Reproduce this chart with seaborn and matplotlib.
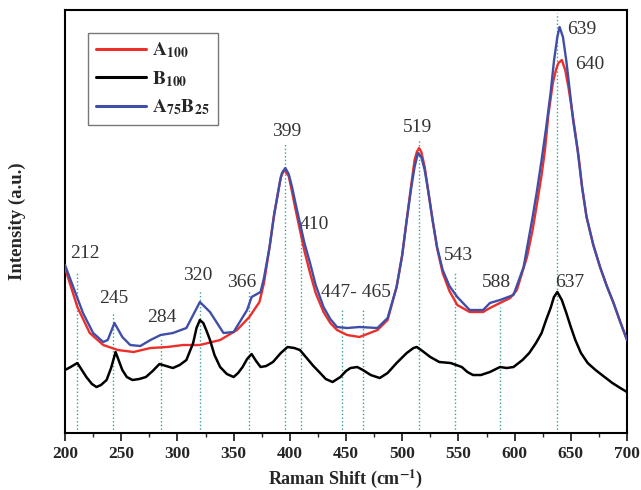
import numpy as np
import pandas as pd
import matplotlib
matplotlib.use('Agg')
import matplotlib.pyplot as plt
import seaborn as sns

sns.set_theme(style='ticks')
plt.rcParams['font.family'] = ['Liberation Serif', 'DejaVu Serif']
plt.rcParams['mathtext.fontset'] = 'stix'

# ---- data (intensity in arbitrary units) ----
a100_x = [200, 211, 222, 234, 247, 261, 276, 291, 305, 320, 338, 353, 364, 373,
          377, 382, 386, 392, 395, 399, 402, 405, 409, 413, 418, 423, 430, 436,
          442, 451, 462, 478, 487, 495, 500, 504, 508, 511, 513, 515, 517, 520,
          523, 527, 531, 536, 542, 549, 560, 572, 578, 596, 602, 611, 616, 620,
          624, 627, 630, 634, 637, 639, 642, 645, 648, 651, 654, 657, 660, 664,
          670, 676, 682, 688, 694, 700]
a100_y = [165, 126, 100, 88, 83, 81, 85, 86, 88, 88, 93, 103, 116, 131,
          150, 186, 218, 256, 263, 257, 241, 224, 203, 182, 160, 140, 121, 110,
          103, 98, 96, 103, 113, 146, 178, 213, 248, 273, 281, 285, 281, 266,
          243, 213, 185, 160, 142, 128, 121, 121, 125, 135, 143, 176, 203, 230,
          258, 283, 318, 350, 364, 370, 373, 363, 345, 323, 300, 276, 246, 216,
          188, 166, 147, 130, 111, 93]

b100_x = [200, 205, 211, 215, 219, 224, 228, 232, 237, 241, 245, 248, 251, 255,
          260, 266, 272, 278, 284, 290, 296, 302, 308, 314, 317, 320, 323, 326,
          329, 333, 338, 344, 350, 354, 358, 362, 366, 370, 374, 379, 385, 392,
          398, 404, 409, 415, 421, 427, 432, 438, 445, 450, 454, 460, 465, 472,
          480, 487, 495, 504, 510, 513, 518, 525, 533, 543, 548, 553, 558, 563,
          570, 578, 587, 593, 599, 607, 613, 619, 624, 628, 632, 635, 638, 642,
          646, 650, 654, 659, 665, 672, 680, 687, 694, 700]
b100_y = [63, 66, 70, 63, 56, 49, 46, 48, 53, 65, 81, 72, 63, 56,
          53, 54, 56, 62, 69, 67, 65, 68, 73, 90, 105, 113, 110, 102,
          93, 78, 66, 59, 56, 60, 66, 74, 79, 72, 66, 67, 71, 80,
          86, 85, 83, 75, 67, 60, 54, 51, 56, 62, 65, 66, 63, 58,
          55, 60, 70, 80, 85, 86, 82, 76, 71, 70, 68, 66, 61, 58,
          58, 61, 66, 65, 66, 73, 80, 90, 100, 113, 125, 136, 141, 133,
          120, 106, 93, 80, 70, 63, 56, 50, 45, 41]

a75b25_x = [200, 216, 225, 234, 238, 244, 251, 258, 267, 276, 285, 296, 308, 314,
            320, 329, 341, 350, 362, 366, 374, 377, 382, 386, 391, 393, 396, 399,
            402, 405, 409, 413, 418, 423, 430, 436, 442, 451, 462, 478, 487, 495,
            500, 504, 508, 511, 514, 517, 520, 523, 527, 531, 536, 542, 549, 560,
            572, 578, 587, 599, 608, 616, 620, 624, 628, 632, 635, 638, 640, 643,
            646, 649, 652, 656, 660, 664, 670, 676, 682, 688, 694, 700]
a75b25_y = [168, 120, 100, 91, 93, 110, 96, 88, 87, 93, 98, 100, 105, 118,
            131, 121, 100, 101, 123, 136, 141, 155, 186, 218, 250, 260, 265, 259,
            246, 230, 210, 190, 170, 148, 126, 114, 106, 105, 106, 105, 115, 146,
            178, 213, 245, 266, 280, 276, 263, 243, 213, 186, 163, 147, 136, 123,
            123, 130, 133, 138, 166, 216, 243, 273, 305, 340, 372, 396, 406, 396,
            372, 343, 313, 283, 246, 216, 188, 166, 147, 130, 111, 93]

# assigned band positions (dotted guides) and their labels
band_x = [211, 243, 285, 320, 364, 396, 410, 446, 465, 515, 547, 587, 638]
band_top = [161, 120, 95, 143, 143, 290, 213, 125, 123, 293, 160, 126, 420]
label_text = ['212', '245', '284', '320', '366', '399', '410', '447- 465',
              '519', '543', '588', '637', '639', '640']
label_x = [218, 243, 286, 318, 357, 397, 422, 459, 514, 550, 584, 649, 660, 667]
label_y = [180, 135, 116, 158, 151, 302, 209, 141, 306, 178, 151, 151, 403, 368]

RED = '#ec2f2b'
BLUE = '#3f4fa8'
GUIDE = '#3aa39a'

fig = plt.figure(figsize=(6.41, 4.90), dpi=100)
ax = fig.add_axes([0.1014, 0.1163, 0.8768, 0.8633])

ax.vlines(band_x, 0, band_top, colors=GUIDE, linestyles=':', linewidth=1.0, zorder=1)

sns.lineplot(x=a100_x, y=a100_y, ax=ax, color=RED, linewidth=1.7,
             label=r'$\mathbf{A}_{\mathbf{100}}$', zorder=3)
sns.lineplot(x=b100_x, y=b100_y, ax=ax, color='black', linewidth=1.8,
             label=r'$\mathbf{B}_{\mathbf{100}}$', zorder=3)
sns.lineplot(x=a75b25_x, y=a75b25_y, ax=ax, color=BLUE, linewidth=1.7,
             label=r'$\mathbf{A}_{\mathbf{75}}\mathbf{B}_{\mathbf{25}}$', zorder=4)

for t, x, y in zip(label_text, label_x, label_y):
    ax.text(x, y, t, ha='center', va='center', fontsize=14, color='#333333')

ax.set_xlim(200, 700)
ax.set_ylim(0, 423)
ax.set_xticks(range(200, 701, 50))
ax.set_xticks(range(225, 700, 50), minor=True)
ax.set_yticks([])
ax.tick_params(axis='x', which='major', length=6, width=1.3, labelsize=12.5, pad=3)
ax.tick_params(axis='x', which='minor', length=3, width=1.0)
for lab in ax.get_xticklabels():
    lab.set_fontweight('bold')
for s in ax.spines.values():
    s.set_linewidth(1.5)
    s.set_color('black')

ax.set_xlabel(r'Raman Shift (cm$^{\mathbf{-1}}$)', fontsize=13, fontweight='bold', labelpad=4)
ax.set_ylabel('Intensity (a.u.)', fontsize=13.5, fontweight='bold', labelpad=28)

leg = ax.legend(loc='upper left', bbox_to_anchor=(0.041, 0.946), borderaxespad=0,
                fontsize=14, handlelength=2.6, labelspacing=0.45, handletextpad=0.3,
                borderpad=0.4, fancybox=False, framealpha=1)
leg.get_frame().set_edgecolor('#777777')
leg.get_frame().set_linewidth(1.0)
for line in leg.get_lines():
    line.set_linewidth(2.2)

fig.savefig('out.png', dpi=100)
